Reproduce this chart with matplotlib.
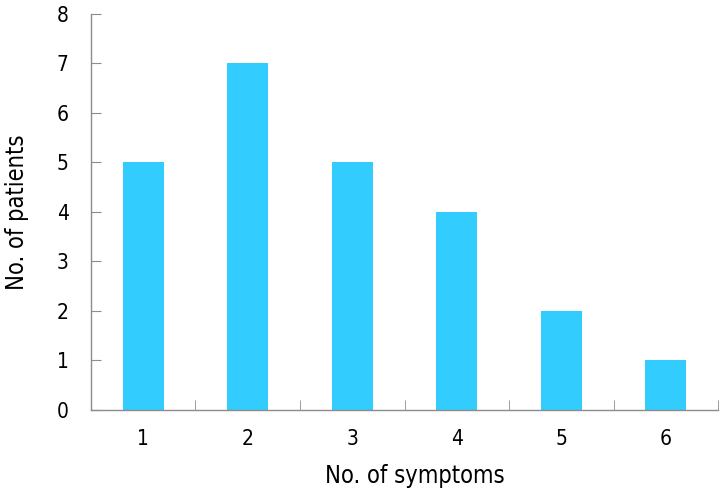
import numpy as np
import matplotlib.pyplot as plt

symptoms = ['1', '2', '3', '4', '5', '6']
patients = [5, 7, 5, 4, 2, 1]

plt.rcParams['font.family'] = ['DejaVu Sans']
plt.rcParams['font.stretch'] = 'condensed'

fig = plt.figure(figsize=(7.22, 4.91), dpi=100)
ax = fig.add_axes([0.126, 0.165, 0.8685, 0.8065])

x = np.arange(len(symptoms))
ax.bar(x, patients, width=0.39, color='#33ccff', edgecolor='none')

ax.set_xlim(-0.5, len(symptoms) - 0.5)
ax.set_ylim(0, 8)
ax.set_yticks(range(0, 9))
ax.set_xticks(x)
ax.set_xticklabels(symptoms)
ax.set_xticks(np.arange(-0.5, len(symptoms)), minor=True)

for s in ['top', 'right']:
    ax.spines[s].set_visible(False)
for s in ['left', 'bottom']:
    ax.spines[s].set_color('#8c8c8c')
    ax.spines[s].set_linewidth(1.0)

ax.tick_params(axis='y', direction='in', length=7, color='#8c8c8c', labelsize=15, pad=16)
ax.tick_params(axis='x', which='major', length=0, labelsize=15, pad=14)
ax.tick_params(axis='x', which='minor', direction='in', length=7, color='#8c8c8c')

ax.set_xlabel('No. of symptoms', fontsize=17)
ax.xaxis.set_label_coords(0.517, -0.136)
ax.set_ylabel('No. of patients', fontsize=17, labelpad=20)

fig.savefig('out.png', dpi=100)
